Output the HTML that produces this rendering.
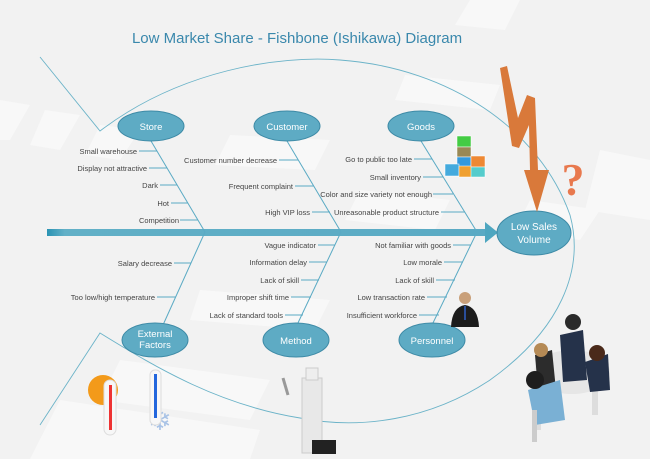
<!DOCTYPE html>
<html><head><meta charset="utf-8"><style>
html,body{margin:0;padding:0;background:#f2f2f2;}
svg{display:block;font-family:"Liberation Sans",sans-serif;}
</style></head><body>
<svg width="650" height="459" viewBox="0 0 650 459" xmlns="http://www.w3.org/2000/svg">
<rect width="650" height="459" fill="#f2f2f2"/>
<g fill="#f8f8f8">
<polygon points="470,0 520,0 505,30 455,25"/>
<polygon points="405,75 500,85 490,110 395,100"/>
<polygon points="230,135 330,140 315,170 215,165"/>
<polygon points="0,100 30,105 10,140 0,140"/>
<polygon points="45,110 80,115 60,150 30,145"/>
<polygon points="100,125 140,130 120,160 85,155"/>
<polygon points="360,190 450,200 435,230 345,220"/>
<polygon points="530,200 600,210 580,240 515,230"/>
<polygon points="600,150 650,160 650,220 585,210"/>
<polygon points="200,290 330,300 315,330 190,320"/>
<polygon points="120,360 270,380 250,420 100,400"/>
<polygon points="60,400 260,430 250,459 30,459"/>
</g>
<text x="297" y="43" text-anchor="middle" font-size="15" fill="#3a88ac">Low Market Share - Fishbone (Ishikawa) Diagram</text>
<g fill="none" stroke="#6bb3c8" stroke-width="0.9">
<path d="M40 57 L100 131 C180 70 280 55 340 60 C450 68 540 130 570 215 C585 270 560 330 490 380 C430 420 360 430 300 418 C220 405 160 370 100 333 L40 425"/>
</g>
<!-- spine -->
<defs><linearGradient id="sg" x1="0" x2="1"><stop offset="0" stop-color="#2a93b3"/><stop offset="0.04" stop-color="#62b0c7"/><stop offset="1" stop-color="#5aaac4"/></linearGradient></defs>
<rect x="47" y="229" width="440" height="7" fill="url(#sg)"/>
<polygon points="485,222 498,232.5 485,243" fill="#4ea6c0"/>
<g stroke="#5aaac4" stroke-width="1" fill="none">
<line x1="151" y1="141" x2="205" y2="232"/>
<line x1="287" y1="141" x2="341" y2="232"/>
<line x1="421" y1="141" x2="477" y2="232"/>
<line x1="205" y1="232" x2="163" y2="325"/>
<line x1="341" y1="232" x2="297" y2="325"/>
<line x1="477" y1="232" x2="432" y2="325"/>
<!-- store ribs -->
<line x1="139" y1="151" x2="157" y2="151"/>
<line x1="149" y1="168" x2="167" y2="168"/>
<line x1="160" y1="185" x2="177" y2="185"/>
<line x1="171" y1="203" x2="188" y2="203"/>
<line x1="180" y1="220" x2="198" y2="220"/>
<line x1="279" y1="160" x2="298" y2="160"/>
<line x1="295" y1="186" x2="314" y2="186"/>
<line x1="312" y1="212" x2="330" y2="212"/>
<line x1="414" y1="159" x2="432" y2="159"/>
<line x1="423" y1="177" x2="443" y2="177"/>
<line x1="433" y1="194" x2="453" y2="194"/>
<line x1="441" y1="212" x2="465" y2="212"/>
<line x1="174" y1="263" x2="191" y2="263"/>
<line x1="157" y1="297" x2="176" y2="297"/>
<line x1="318" y1="245" x2="335" y2="245"/>
<line x1="309" y1="262" x2="327" y2="262"/>
<line x1="301" y1="280" x2="319" y2="280"/>
<line x1="291" y1="297" x2="311" y2="297"/>
<line x1="285" y1="315" x2="303" y2="315"/>
<line x1="453" y1="245" x2="471" y2="245"/>
<line x1="444" y1="262" x2="463" y2="262"/>
<line x1="436" y1="280" x2="455" y2="280"/>
<line x1="427" y1="297" x2="447" y2="297"/>
<line x1="419" y1="315" x2="439" y2="315"/>
</g>
<g font-size="7.5" fill="#444" text-anchor="end">
<text x="137" y="154">Small warehouse</text>
<text x="147" y="171">Display not attractive</text>
<text x="158" y="188">Dark</text>
<text x="169" y="206">Hot</text>
<text x="179" y="223">Competition</text>
<text x="277" y="163">Customer number decrease</text>
<text x="293" y="189">Frequent complaint</text>
<text x="310" y="215">High VIP loss</text>
<text x="412" y="162">Go to public too late</text>
<text x="421" y="180">Small  inventory</text>
<text x="432" y="197">Color and size variety not enough</text>
<text x="439" y="215">Unreasonable product structure</text>
<text x="172" y="266">Salary decrease</text>
<text x="155" y="300">Too low/high temperature</text>
<text x="316" y="248">Vague indicator</text>
<text x="307" y="265">Information delay</text>
<text x="299" y="283">Lack of skill</text>
<text x="289" y="300">Improper shift time</text>
<text x="283" y="318">Lack of standard tools</text>
<text x="451" y="248">Not familiar with goods</text>
<text x="442" y="265">Low morale</text>
<text x="434" y="283">Lack of skill</text>
<text x="425" y="300">Low transaction rate</text>
<text x="417" y="318">Insufficient workforce</text>
</g>
<g fill="#5eabc4" stroke="#3d8aa6" stroke-width="1">
<ellipse cx="151" cy="126" rx="33" ry="15"/>
<ellipse cx="287" cy="126" rx="33" ry="15"/>
<ellipse cx="421" cy="126" rx="33" ry="15"/>
<ellipse cx="155" cy="340" rx="33" ry="17"/>
<ellipse cx="296" cy="340" rx="33" ry="17"/>
<ellipse cx="432" cy="340" rx="33" ry="17"/>
<ellipse cx="534" cy="233" rx="37" ry="22"/>
</g>
<g fill="#fff" font-size="9.5" text-anchor="middle">
<text x="151" y="130">Store</text>
<text x="287" y="130">Customer</text>
<text x="421" y="130">Goods</text>
<text x="155" y="337">External</text>
<text x="155" y="348">Factors</text>
<text x="296" y="344">Method</text>
<text x="432" y="344">Personnel</text>
<text x="534" y="230" font-size="10">Low Sales</text>
<text x="534" y="243" font-size="10">Volume</text>
</g>
<!-- orange arrow -->
<polygon points="500,68 507,66 518,118 527,95 535,98 538,170 549,170 537,212 524,170 530,170 529,125 519,148 512,146" fill="#d9793a"/>
<text x="573" y="195" font-size="46" font-weight="bold" fill="#e8794e" text-anchor="middle" font-family="Liberation Serif,serif">?</text>
<!-- blocks -->
<g stroke="#fff" stroke-width="0.5">
<rect x="457" y="136" width="14" height="11" fill="#44cc44"/>
<rect x="457" y="147" width="14" height="10" fill="#998855"/>
<rect x="457" y="157" width="14" height="10" fill="#3399dd"/>
<rect x="445" y="164" width="14" height="12" fill="#44aadd"/>
<rect x="459" y="166" width="13" height="11" fill="#f0a030"/>
<rect x="471" y="156" width="14" height="11" fill="#ee8833"/>
<rect x="471" y="167" width="14" height="10" fill="#55cccc"/>
</g>
<!-- businessman -->
<circle cx="465" cy="298" r="6" fill="#c9a07a"/>
<path d="M451 327 Q452 307 465 305 Q478 307 479 327 Z" fill="#1c1c1c"/>
<rect x="464" y="306" width="2" height="14" fill="#2a4e9a"/>
<!-- thermometers -->
<circle cx="103" cy="390" r="15" fill="#f39a1a"/>
<rect x="104" y="380" width="12" height="55" rx="6" fill="#f7f7f7" stroke="#ddd"/>
<rect x="109" y="385" width="3" height="45" fill="#e33"/>
<text x="160" y="430" font-size="28" fill="#a9c3e6" text-anchor="middle">❄</text>
<rect x="150" y="370" width="11" height="55" rx="5" fill="#f7f7f7" stroke="#ddd"/>
<rect x="154" y="374" width="3" height="44" fill="#2266dd"/>
<!-- robot man -->
<rect x="302" y="378" width="20" height="75" fill="#e8e8e8" stroke="#ccc"/>
<rect x="306" y="368" width="12" height="12" fill="#eee" stroke="#ccc"/>
<rect x="312" y="440" width="24" height="14" fill="#222"/>
<path d="M283 378 L288 395" stroke="#999" stroke-width="3"/>
<!-- meeting -->
<g>
<ellipse cx="572" cy="372" rx="38" ry="22" fill="#e6e6e6"/>
<rect x="535" y="375" width="6" height="55" fill="#ddd"/>
<rect x="592" y="360" width="6" height="55" fill="#ddd"/>
<path d="M560 335 L583 330 L587 380 L563 382 Z" fill="#25324a"/>
<circle cx="573" cy="322" r="8" fill="#2a2a2a"/>
<path d="M585 362 L608 354 L610 390 L590 392 Z" fill="#25324a"/>
<circle cx="597" cy="353" r="8" fill="#4a2a1a"/>
<path d="M535 355 L552 350 L556 390 L538 390 Z" fill="#2c2c2c"/>
<circle cx="541" cy="350" r="7" fill="#b58a55"/>
<path d="M528 390 L560 380 L565 420 L535 425 Z" fill="#7ab0d4"/>
<circle cx="535" cy="380" r="9" fill="#1e1e1e"/>
<rect x="532" y="410" width="5" height="32" fill="#ccc"/>
</g>
</svg>
</body></html>
